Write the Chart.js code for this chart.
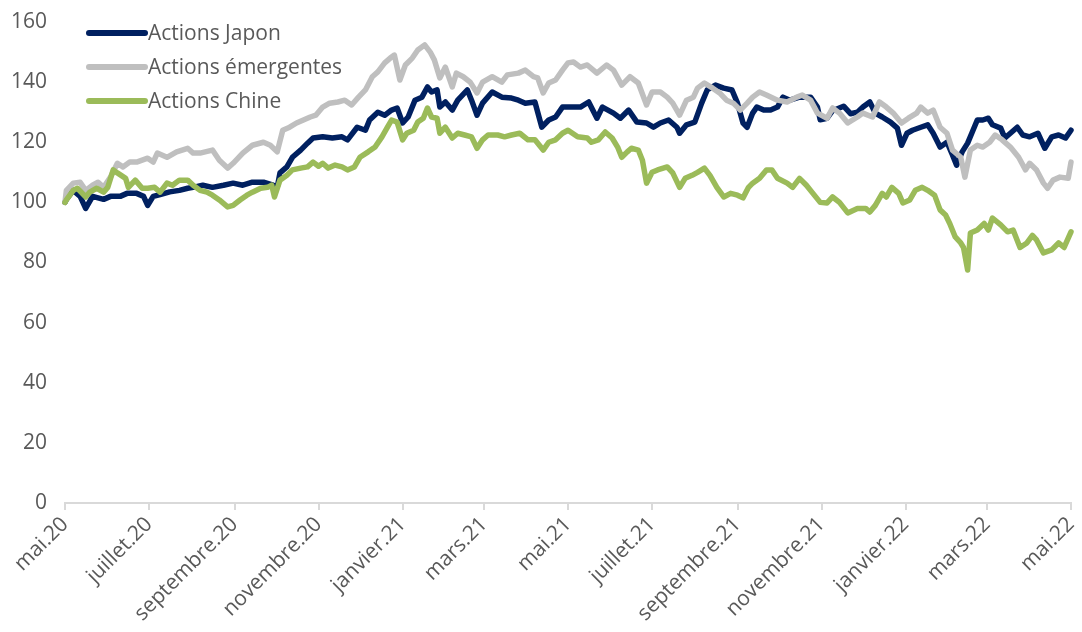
<!DOCTYPE html>
<html lang="fr">
<head>
<meta charset="utf-8">
<title>Actions Japon, émergentes et Chine</title>
<script src="https://cdn.jsdelivr.net/npm/chart.js@4.4.1/dist/chart.umd.min.js"></script>
<style>
    html, body { margin: 0; padding: 0; background: #ffffff; }
</style>
</head>
<body>
<canvas id="indicesChart" width="1082" height="632"></canvas>
<script>
// jours écoulés depuis le 1er mai 2020, base 100
var japonDays = [0,1,6,11,15,20,28,33,40,45,52,57,60,64,69,76,83,89,93,100,107,115,122,129,136,144,151,154,156,161,165,171,176,180,187,194,201,205,212,218,221,227,232,237,241,245,249,254,259,263,266,270,272,276,281,285,292,295,299,303,310,317,324,329,334,341,346,351,356,361,368,374,380,386,390,398,403,409,415,422,427,432,438,444,446,451,457,462,466,472,478,484,488,492,495,499,502,507,512,517,521,526,533,541,546,548,553,557,565,570,575,579,584,588,593,599,604,607,611,615,621,626,630,635,640,644,647,651,655,658,662,666,670,673,679,682,686,691,695,700,706,711,716,721,726,730];
var japonValues = [100,101,104,102,98,102,101,102,102,103,103,102,99,102,102.6,103.5,104,104.7,105,105.7,105,105.7,106.4,105.7,106.7,106.7,105.7,105,109.8,111.8,115,117.4,119.7,121.4,121.8,121.4,121.8,120.8,125,124,127.4,130,129,130.7,131.4,126.4,128.4,134,135,138.4,136.7,137.4,131.7,133.4,130.7,134,137.4,134,129,133,136.7,135,134.7,134,133,133.4,125,127.4,128.4,131.7,131.7,131.7,133.4,128,131.7,129.7,128,130.7,126.7,126.4,125,126.4,127.4,125,123,125.8,126.7,133,137.4,139,138,137.4,133,126.4,125,129.7,131.7,130.7,130.7,131.7,135,134,135,135,131.7,127.5,128,130.5,132,129.5,130,131.7,133.4,129.7,128.4,126.7,124.7,119,123,124,125,125.8,123,118.4,120,115.8,112.4,116.8,119.7,123,127.4,127.4,128,125.8,124.7,121.4,123,125,122.4,121.8,123,118,121.8,122.4,121.4,124];

var emergentesDays = [0,1,6,11,15,20,24,28,33,38,42,47,52,60,64,67,74,81,89,93,98,107,112,118,122,129,136,144,149,154,158,163,168,173,178,182,187,192,198,203,208,213,218,223,227,232,236,239,243,247,252,256,261,265,268,272,276,281,284,289,294,299,303,310,317,321,329,334,340,343,347,351,356,361,365,369,374,379,386,393,398,404,410,416,422,426,432,437,441,446,451,456,459,464,470,475,480,485,490,495,499,504,509,517,524,531,535,541,546,553,557,562,568,575,579,586,591,596,601,607,612,618,621,626,630,635,640,644,650,653,657,662,666,671,675,680,686,692,697,700,705,710,713,717,722,728,730];
var emergentesValues = [100,104,106.4,106.7,104,105.7,106.7,105,108.4,113,111.8,113.4,113.4,114.7,113.4,116.4,115,116.8,118,116.4,116.4,117.4,114,111.4,113,116.4,119,120,119,116.8,124,125,126.4,127.4,128.4,129,131.7,133,133.4,134,132.4,135,137.4,141.8,143.4,146.4,148,149,140.7,145.7,148,150.7,152.4,150,147.4,141.4,145,138.4,143,141.8,140,136.4,140,141.8,140,142.4,143,144,141.8,141.4,136.4,139.7,140.7,144,146.4,146.7,145,145.7,143,145.7,144,139,141.8,139.7,132.4,136.7,136.7,135,133,129,134,135,138,139.7,138,136.4,134,133,130.7,133,135,136.7,135.7,134,133.4,135,135.7,134,129.7,128,131.4,129.7,126.4,128.4,129.7,128.4,133.4,131.7,129.7,126.4,128,129.7,131.7,129.7,130.7,125,123,117.4,115,108.4,117.4,119,118.4,120,122.4,120.8,118.4,115,110.8,113,110.8,106.4,104.7,107.4,108.4,108,113.4];

var chineDays = [0,1,6,9,15,18,23,28,31,35,38,44,46,51,56,60,65,69,74,78,83,89,93,98,103,107,112,118,122,127,132,136,142,147,150,152,156,161,165,171,176,180,184,187,191,196,201,205,210,214,220,225,230,234,237,241,245,248,253,256,260,263,266,270,272,276,281,285,290,295,299,303,307,314,319,324,330,336,341,347,351,356,361,365,372,379,382,387,392,397,401,404,408,411,416,419,422,426,430,437,441,446,450,455,459,464,468,473,478,483,488,492,496,499,504,509,513,517,524,528,533,538,542,548,553,557,562,568,575,581,584,588,593,596,600,605,608,613,617,622,626,631,635,639,642,646,650,652,655,657,662,667,670,673,679,684,688,693,698,702,705,710,716,721,725,730];
var chineValues = [100,100.8,104,104.7,101.8,103.4,104.7,103.4,105,110.8,109.8,108,105,107.4,104.7,104.7,105,103.4,106.4,105.7,107.4,107.4,105.7,104,103.4,102.4,100.8,98.5,99,100.8,102.4,103.4,104.7,105,105.7,101.8,107.4,109,110.8,111.4,111.8,113.4,112,113,111.4,112.4,111.8,110.8,111.8,115,116.8,118.4,121.8,125,127.4,126.7,120.8,123,124,126.7,128,131.4,128.4,128,123,125,121.4,123,122.4,121.8,118,120.8,122.4,122.4,121.8,122.4,123,120.8,120.8,117.4,120,120.8,123,124,121.8,121.4,120,120.8,123.4,121.4,118.4,115,116.8,118,117.4,114,106.4,110,110.8,111.8,109.8,105,108,109,110,111.4,109,105,101.8,103,102.4,101.5,105,106.4,108,110.8,110.8,108,106.4,105,108,105.7,103.4,100,99.8,101.8,100,96.5,98,98,96.8,99,103,101.8,105,103,99.8,100.8,104,105,104,102.4,97.5,95.8,93,88.5,86.5,85,77.5,89.8,90.8,93,90.8,94.8,92.5,90.2,90.8,85,86.5,89,87.5,83.2,84.2,86.5,85,90.2];

// graduations de l'axe des dates : un mois sur deux
var monthTicks = [0, 61, 123, 184, 245, 304, 365, 426, 488, 549, 610, 669, 730];
var monthLabels = ['mai.20', 'juillet.20', 'septembre.20', 'novembre.20', 'janvier.21', 'mars.21', 'mai.21', 'juillet.21', 'septembre.21', 'novembre.21', 'janvier.22', 'mars.22', 'mai.22'];

var textColor = '#595959';
var fontFamily = '"Open Sans", "Liberation Sans", sans-serif';

function toPoints(days, values) {
    return days.map(function(d, i) {
        return { x: d, y: values[i] };
    });
}

function lineDataset(label, days, values, color, order) {
    return {
        label: label,
        data: toPoints(days, values),
        borderColor: color,
        backgroundColor: color,
        borderWidth: 5.5,
        pointRadius: 0,
        tension: 0,
        borderJoinStyle: 'round',
        borderCapStyle: 'round',
        clip: 6,
        order: order
    };
}

// légende posée dans la zone du graphique, en haut à gauche
var insideLegend = {
    id: 'insideLegend',
    afterDatasetsDraw: function(chart, args, opts) {
        var ctx = chart.ctx;
        var area = chart.chartArea;
        ctx.save();
        ctx.font = opts.font;
        ctx.textBaseline = 'middle';
        ctx.textAlign = 'left';
        chart.data.datasets.forEach(function(ds, i) {
            var x = area.left + opts.left;
            var y = area.top + opts.top + i * opts.spacing;
            ctx.strokeStyle = ds.borderColor;
            ctx.lineWidth = opts.lineWidth;
            ctx.lineCap = 'round';
            ctx.beginPath();
            ctx.moveTo(x, y);
            ctx.lineTo(x + opts.lineLength, y);
            ctx.stroke();
            ctx.fillStyle = opts.color;
            ctx.fillText(ds.label, x + opts.lineLength + opts.gap, y + 1);
        });
        ctx.restore();
    }
};

var chart = new Chart(document.getElementById('indicesChart'), {
    type: 'line',
    data: {
        datasets: [
            lineDataset('Actions Japon', japonDays, japonValues, '#002060', 3),
            lineDataset('Actions émergentes', emergentesDays, emergentesValues, '#bfbfbf', 2),
            lineDataset('Actions Chine', chineDays, chineValues, '#9bbb59', 1)
        ]
    },
    options: {
        responsive: false,
        animation: false,
        devicePixelRatio: 1,
        layout: {
            padding: { left: 0, right: 11, top: 22, bottom: 0 }
        },
        scales: {
            x: {
                type: 'linear',
                min: 0,
                max: 730,
                afterBuildTicks: function(axis) {
                    axis.ticks = monthTicks.map(function(v) { return { value: v }; });
                },
                // hauteur fixe ; les étiquettes inclinées débordent à gauche sans marge
                afterFit: function(axis) {
                    axis.paddingLeft = 0;
                    axis.paddingRight = 0;
                    axis.height = 129;
                },
                ticks: {
                    autoSkip: false,
                    minRotation: 45,
                    maxRotation: 45,
                    padding: 2,
                    color: textColor,
                    font: { family: fontFamily, size: 21 },
                    callback: function(value) {
                        var i = monthTicks.indexOf(value);
                        return i >= 0 ? monthLabels[i] : '';
                    }
                },
                grid: {
                    display: true,
                    drawOnChartArea: false,
                    drawTicks: true,
                    tickLength: 7,
                    color: '#d9d9d9',
                    lineWidth: 2
                },
                border: { display: true, color: '#d9d9d9', width: 2 }
            },
            y: {
                min: 0,
                max: 160,
                afterFit: function(axis) {
                    axis.paddingTop = 0;
                    axis.paddingBottom = 0;
                    axis.width = 65;
                },
                ticks: {
                    stepSize: 20,
                    padding: 18,
                    color: textColor,
                    font: { family: fontFamily, size: 21 }
                },
                grid: { display: false, drawTicks: false },
                border: { display: false }
            }
        },
        plugins: {
            legend: { display: false },
            tooltip: { enabled: false },
            insideLegend: {
                left: 24,
                top: 11,
                spacing: 34,
                lineLength: 56,
                lineWidth: 6,
                gap: 3,
                color: textColor,
                font: '21px ' + fontFamily
            }
        }
    },
    plugins: [insideLegend]
});
</script>
</body>
</html>
